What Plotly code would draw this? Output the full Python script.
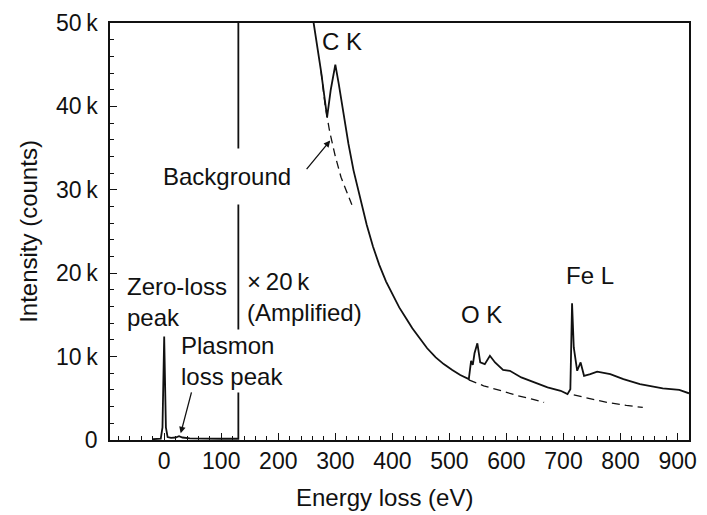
import plotly.graph_objects as go

# ---- data (energy in eV, intensity in counts) ----
spectrum_energy = [-20, -6, -3, 0, 3, 6, 12, 20, 26, 32, 45, 70, 100, 130,
                   130, 200, 262, 275, 285.6, 292, 300, 306, 314, 323, 332, 343,
                   355, 366, 377, 389, 401, 412, 424, 435, 447, 461, 476, 490,
                   505, 519, 534, 538, 541, 544, 549, 554, 562, 571, 580, 594,
                   606, 626, 649, 672, 695, 707, 712, 715, 718, 724, 730, 736,
                   747, 759, 782, 805, 834, 874, 903, 920]
spectrum_counts = [100, 150, 1500, 12400, 1500, 350, 250, 300, 450, 300, 200,
                   150, 150, 150,
                   95000, 68000, 50000, 44200, 38700, 42000, 45000, 42700,
                   39100, 35500, 32300, 29000, 25800, 23200, 21000, 19000,
                   17300, 15900, 14600, 13400, 12300, 11000, 9900, 9100, 8400,
                   7800, 7300, 9500, 9000, 10400, 11600, 9300, 9100, 10100,
                   9300, 8400, 8300, 7500, 6900, 6300, 5900, 5500, 6100, 16400,
                   11100, 8300, 9300, 7700, 7900, 8200, 7900, 7300, 6700, 6200,
                   6000, 5600]

bg_c_energy = [275, 282, 290, 300, 310, 320, 329]
bg_c_counts = [44200, 40200, 37000, 34000, 31500, 29700, 28200]
bg_o_energy = [534, 560, 591, 620, 645, 666]
bg_o_counts = [7200, 6500, 5900, 5300, 4900, 4500]
bg_fe_energy = [718, 750, 776, 810, 839]
bg_fe_counts = [5400, 4900, 4500, 4150, 3900]

x_ticks = [0, 100, 200, 300, 400, 500, 600, 700, 800, 900]
y_ticks = [0, 10000, 20000, 30000, 40000, 50000]
y_ticktext = ["0", "10\u2009k", "20\u2009k", "30\u2009k", "40\u2009k", "50\u2009k"]

FONT = "Liberation Sans, Arial, Helvetica, sans-serif"
INK = "#111111"

fig = go.Figure()
fig.add_trace(go.Scatter(x=spectrum_energy, y=spectrum_counts, mode="lines",
                         line=dict(color=INK, width=1.8), showlegend=False,
                         hoverinfo="skip"))
for ex, cy in [(bg_c_energy, bg_c_counts), (bg_o_energy, bg_o_counts),
               (bg_fe_energy, bg_fe_counts)]:
    fig.add_trace(go.Scatter(x=ex, y=cy, mode="lines",
                             line=dict(color=INK, width=1.3, dash="8px,5px"),
                             showlegend=False, hoverinfo="skip"))

ann_font = dict(family=FONT, size=24, color=INK)
annotations = [
    dict(x=311.5, y=47750, text="C K", showarrow=False, font=ann_font),
    dict(x=110.8, y=31600, text="Background", showarrow=False, font=ann_font,
         bgcolor="white", borderpad=14),
    dict(x=-69, y=16500, text="Zero-loss<br>peak", showarrow=False,
         font=ann_font, xanchor="left", align="left"),
    dict(x=142, y=17200, text="×\u200920\u2009k<br>(Amplified)", showarrow=False,
         font=ann_font, xanchor="left", align="left"),
    dict(x=24, y=9500, text="Plasmon<br>loss peak", showarrow=False,
         font=ann_font, xanchor="left", align="left", bgcolor="white",
         borderpad=2),
    dict(x=557, y=15000, text="O K", showarrow=False, font=ann_font),
    dict(x=746, y=19700, text="Fe L", showarrow=False, font=ann_font),
    # arrows
    dict(x=291, y=35900, ax=247.5, ay=32300, axref="x", ayref="y", text="",
         showarrow=True, arrowhead=2, arrowsize=1, arrowwidth=1.3,
         arrowcolor=INK, standoff=0),
    dict(x=29, y=800, ax=48.5, ay=5900, axref="x", ayref="y", text="",
         showarrow=True, arrowhead=2, arrowsize=1, arrowwidth=1.3,
         arrowcolor=INK, standoff=0),
    # x-axis title
    dict(xref="paper", yref="paper", x=0.4736, y=-0.138, yanchor="middle",
         text="Energy loss (eV)", showarrow=False, font=ann_font),
]

fig.update_layout(
    width=707, height=515,
    margin=dict(l=110, r=10, t=18, b=75),
    paper_bgcolor="white", plot_bgcolor="white",
    font=dict(family=FONT, color=INK),
    annotations=annotations,
    xaxis=dict(range=[-95, 920], tickvals=x_ticks, ticks="inside", ticklen=7,
               tickwidth=1.2, tickcolor=INK, showline=True, linewidth=1.5,
               linecolor=INK, mirror=True, showgrid=False, zeroline=False,
               tickfont=dict(size=23, family=FONT, color=INK),
               minor=dict(dtick=20, ticks="inside", ticklen=4, tickwidth=1,
                          tickcolor=INK, showgrid=False)),
    yaxis=dict(range=[0, 50000], tickvals=y_ticks, ticktext=y_ticktext,
               ticks="inside", ticklen=7, tickwidth=1.2, tickcolor=INK,
               showline=True, linewidth=1.5, linecolor=INK, mirror=True,
               showgrid=False, zeroline=False, ticklabelstandoff=6,
               tickfont=dict(size=23, family=FONT, color=INK),
               minor=dict(dtick=2000, ticks="inside", ticklen=4, tickwidth=1,
                          tickcolor=INK, showgrid=False),
               title=dict(text="Intensity (counts)",
                          font=dict(size=24, family=FONT, color=INK),
                          standoff=12)),
)

fig.write_html("out.html")
